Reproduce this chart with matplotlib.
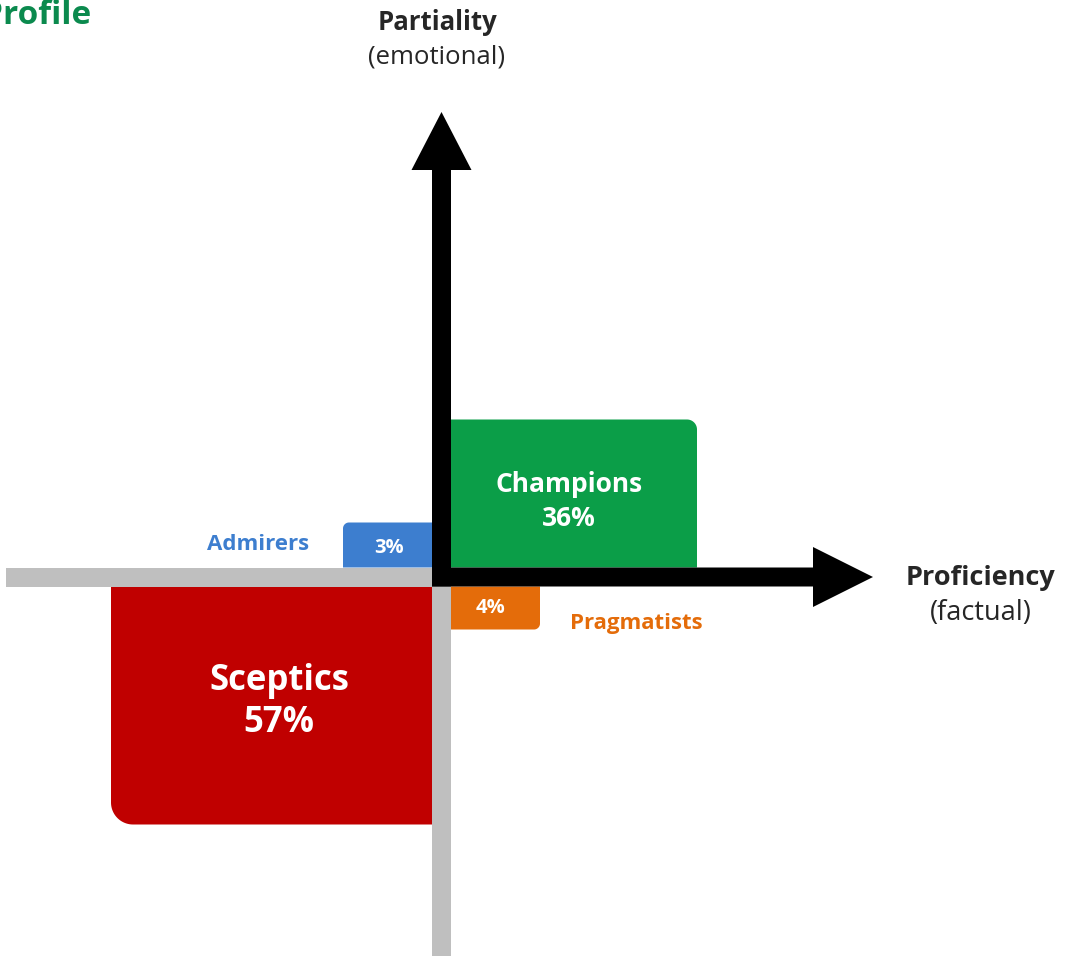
import matplotlib
matplotlib.use("Agg")
import numpy as np
import matplotlib.pyplot as plt
from matplotlib.patches import Polygon, Rectangle, FancyArrow

plt.rcParams["font.family"] = ["Open Sans", "DejaVu Sans"]

# segments, their share and the quadrant they sit in
segments = ["Champions", "Admirers", "Pragmatists", "Sceptics"]
shares = [36, 3, 4, 57]
quadrant_x = [1, -1, 1, -1]
quadrant_y = [1, 1, -1, -1]
colors = ["#0b9e48", "#3d7ecf", "#e46c0a", "#c00000"]

# box layout (pixels)
box_w = [246, 89, 89, 321]
box_h = [148, 45, 43, 238]
corner_r = [10, 6, 6, 22]

axis_x_label = ("Proficiency", "(factual)")
axis_y_label = ("Partiality", "(emotional)")

W, H = 1068, 956
ox, oy = 441.5, 577  # where the axes cross, in image pixels
half = 9.5


def one_round_corner(x0, y0, w, h, r, sx, sy):
    """Box outline with only the corner away from the origin rounded."""
    # inner corner sits at the origin side, outer corner is rounded
    xin = x0 if sx > 0 else x0 + w
    yin = y0 if sy > 0 else y0 + h
    xout = x0 + w if sx > 0 else x0
    yout = y0 + h if sy > 0 else y0
    cx, cy = xout - sx * r, yout - sy * r
    a0 = np.arctan2(0, sx)
    a1 = np.arctan2(sy, 0)
    if a1 - a0 > np.pi:
        a1 -= 2 * np.pi
    if a0 - a1 > np.pi:
        a1 += 2 * np.pi
    t = np.linspace(a0, a1, 30)
    arc = np.column_stack([cx + r * np.cos(t), cy + r * np.sin(t)])
    pts = [(xin, yin), (xout, yin)] + [tuple(p) for p in arc] + [(xin, yout)]
    return pts


fig = plt.figure(figsize=(W / 100, H / 100), dpi=100)
ax = fig.add_axes([0, 0, 1, 1])
ax.set_xlim(-ox, W - ox)
ax.set_ylim(-(H - oy), oy)
ax.set_aspect("equal")
ax.axis("off")

grey = "#bfbfbf"
text_dark = "#262626"

for name, share, sx, sy, c, w, h, r in zip(segments, shares, quadrant_x, quadrant_y,
                                          colors, box_w, box_h, corner_r):
    x0 = half if sx > 0 else -half - w
    y0 = half if sy > 0 else -half - h
    ax.add_patch(Polygon(one_round_corner(x0, y0, w, h, r, sx, sy), closed=True,
                         fc=c, ec="none", zorder=2))

# grey negative axes
ax.add_patch(Rectangle((-ox + 6, -half), ox - 6 - half, 2 * half, fc=grey, ec="none", zorder=3))
ax.add_patch(Rectangle((-half, -(H - oy)), 2 * half, H - oy - half, fc=grey, ec="none", zorder=3))

# black positive axes with arrow heads
ax.add_patch(FancyArrow(-half, 0, 873 - ox + half, 0, width=2 * half, head_width=60,
                        head_length=60, length_includes_head=True, fc="black", ec="none", zorder=4))
ax.add_patch(FancyArrow(0, -half, 0, oy - 112 + half, width=2 * half, head_width=60,
                        head_length=58, length_includes_head=True, fc="black", ec="none", zorder=4))

# labels inside the big boxes
ax.text(127.5, 92, "Champions", color="white", fontsize=19, fontweight="bold",
        ha="center", va="center", zorder=5)
ax.text(127.5, 59, f"{shares[0]}%", color="white", fontsize=19, fontweight="bold",
        ha="center", va="center", zorder=5)
ax.text(-162.5, -104, "Sceptics", color="white", fontsize=25, fontweight="bold",
        ha="center", va="center", zorder=5)
ax.text(-162.5, -146, f"{shares[3]}%", color="white", fontsize=25, fontweight="bold",
        ha="center", va="center", zorder=5)

# small boxes: value inside, name outside
ax.text(-52.5, 29, f"{shares[1]}%", color="white", fontsize=14.5, fontweight="bold",
        ha="center", va="center", zorder=5)
ax.text(49.5, -31, f"{shares[2]}%", color="white", fontsize=14.5, fontweight="bold",
        ha="center", va="center", zorder=5)
ax.text(-183.5, 33, segments[1], color=colors[1], fontsize=16, fontweight="bold",
        ha="center", va="center", zorder=5)
ax.text(194.5, -46, segments[2], color=colors[2], fontsize=16, fontweight="bold",
        ha="center", va="center", zorder=5)

# axis titles
ax.text(-4.5, 555, axis_y_label[0], color=text_dark, fontsize=18.5, fontweight="bold",
        ha="center", va="center")
ax.text(-4.5, 520, axis_y_label[1], color=text_dark, fontsize=18.5, ha="center", va="center")
ax.text(539.5, -1, axis_x_label[0], color=text_dark, fontsize=19.5, fontweight="bold",
        ha="center", va="center")
ax.text(539.5, -36, axis_x_label[1], color=text_dark, fontsize=19.5, ha="center", va="center")

# title, cut at the left edge
ax.text(91 - ox, 562, "Profile", color="#0b8a4e", fontsize=24, fontweight="bold",
        ha="right", va="center")

fig.savefig("out.png", dpi=100)
